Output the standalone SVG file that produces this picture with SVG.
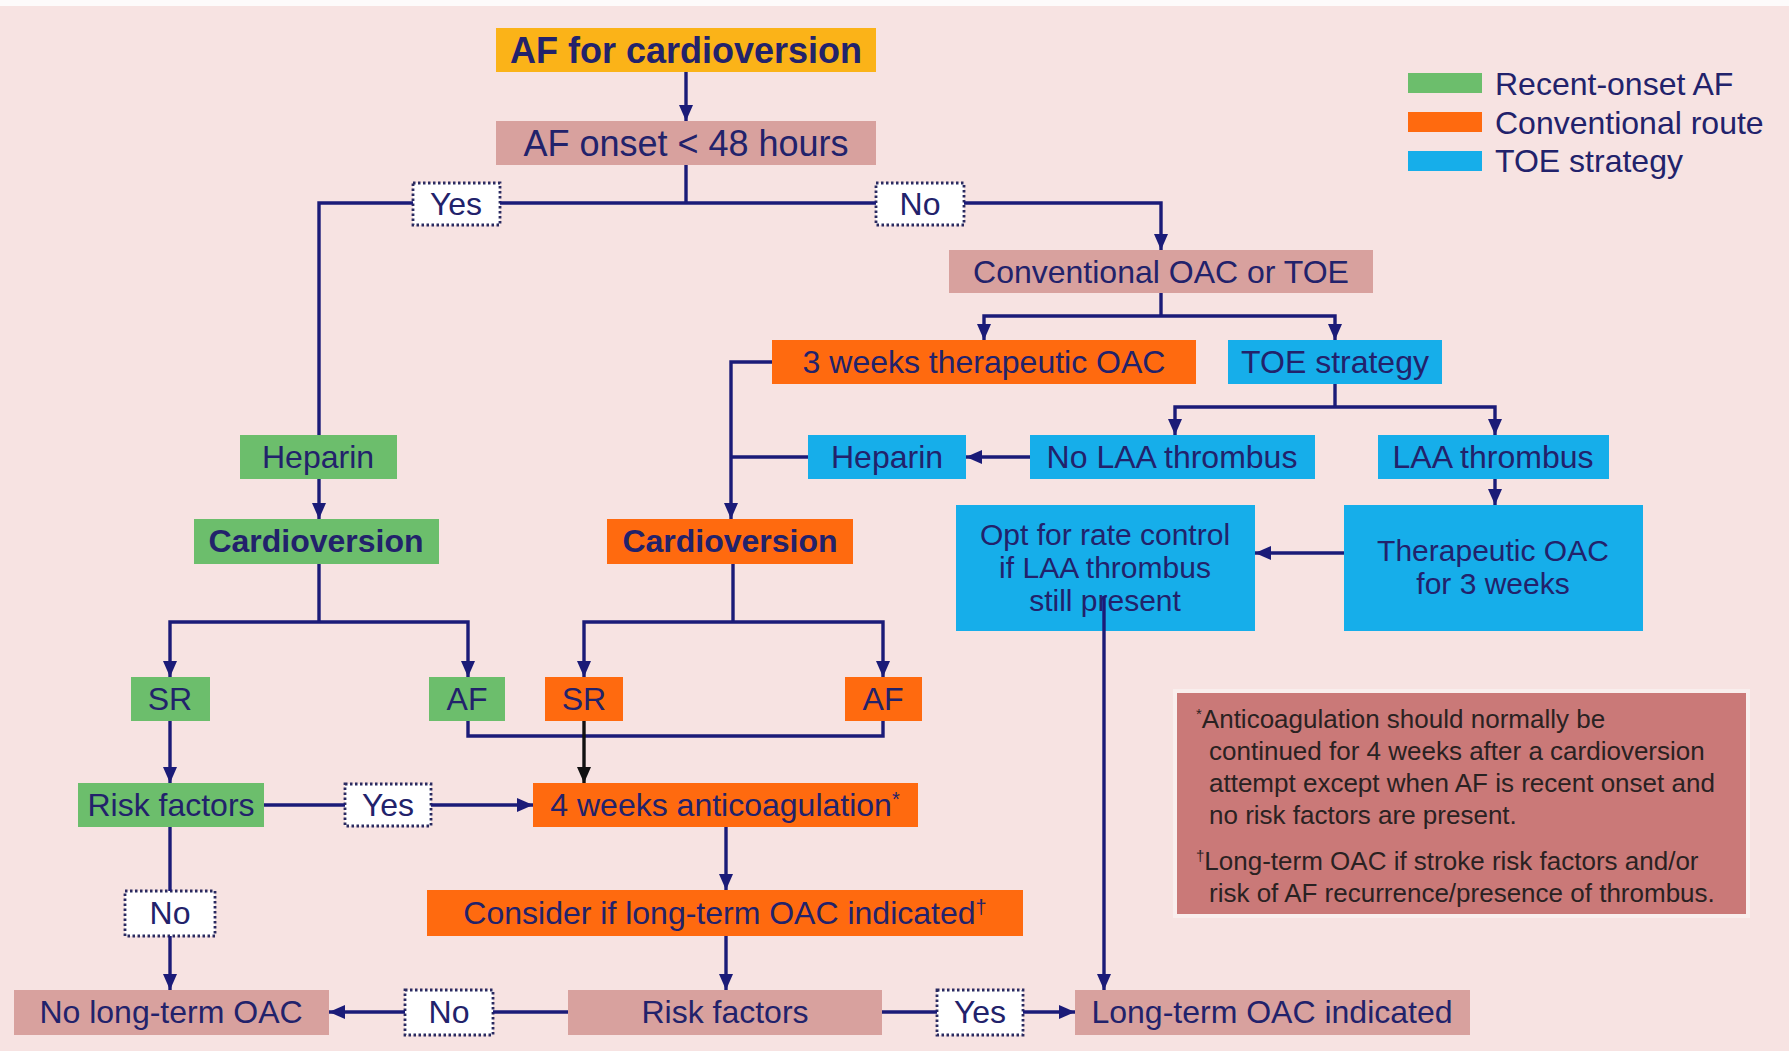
<svg xmlns="http://www.w3.org/2000/svg" width="1789" height="1051" viewBox="0 0 1789 1051">
<style>
text{font-family:"Liberation Sans",Arial,sans-serif;fill:#22226b}
.t{font-size:32px;text-anchor:middle}
.m{font-size:30px;text-anchor:middle}
.b{font-size:32px;font-weight:bold;text-anchor:middle}
.big{font-size:36px;text-anchor:middle}
.leg{font-size:32px}
.fn{font-size:26px;fill:#2a2222}
.rose{fill:#D8A19E}
.orange{fill:#FF6A0F}
.blue{fill:#16AEEA}
.green{fill:#6CBE6C}
.gold{fill:#FBB318}
.lbl{fill:#ffffff;stroke:#2a2a60;stroke-width:2.8;stroke-dasharray:2.5 2.5}
.c{fill:none;stroke:#1b1b78;stroke-width:3.4}
.k{fill:none;stroke:#111111;stroke-width:3.4}
</style>
<defs>
<marker id="a" markerUnits="userSpaceOnUse" markerWidth="18" markerHeight="16" refX="16" refY="7" orient="auto"><path d="M0,0 L16,7 L0,14 z" fill="#1b1b78"/></marker>
<marker id="ak" markerUnits="userSpaceOnUse" markerWidth="18" markerHeight="16" refX="16" refY="7" orient="auto"><path d="M0,0 L16,7 L0,14 z" fill="#111111"/></marker>
</defs>
<rect x="0" y="0" width="1789" height="1051" fill="#F7E3E2"/>
<rect x="0" y="0" width="1789" height="6" fill="#FDFBFB"/>

<g id="legend">
<rect x="1408" y="73" width="74" height="20" class="green"/>
<rect x="1408" y="112" width="74" height="20" class="orange"/>
<rect x="1408" y="151" width="74" height="20" class="blue"/>
<text x="1495" y="95" class="leg">Recent-onset AF</text>
<text x="1495" y="134" class="leg">Conventional route</text>
<text x="1495" y="172" class="leg">TOE strategy</text>
</g>

<g id="n-title"><rect x="496" y="28" width="380" height="44" class="gold"/><text x="686" y="63" class="big" font-weight="bold">AF for cardioversion</text></g>
<g id="n-onset"><rect x="496" y="121" width="380" height="44" class="rose"/><text x="686" y="156" class="big">AF onset &lt; 48 hours</text></g>
<g id="l-yes1"><rect x="413" y="183" width="87" height="42" class="lbl"/><text x="456" y="215" class="t">Yes</text></g>
<g id="l-no1"><rect x="876" y="183" width="88" height="42" class="lbl"/><text x="920" y="215" class="t">No</text></g>
<g id="n-conv"><rect x="949" y="250" width="424" height="43" class="rose"/><text x="1161" y="283" class="t">Conventional OAC or TOE</text></g>
<g id="n-3weeks"><rect x="772" y="340" width="424" height="44" class="orange"/><text x="984" y="373" class="t">3 weeks therapeutic OAC</text></g>
<g id="n-toe"><rect x="1228" y="340" width="214" height="44" class="blue"/><text x="1335" y="373" class="t">TOE strategy</text></g>
<g id="n-heparin-blue"><rect x="808" y="435" width="158" height="44" class="blue"/><text x="887" y="468" class="t">Heparin</text></g>
<g id="n-nolaa"><rect x="1030" y="435" width="285" height="44" class="blue"/><text x="1172" y="468" class="t">No LAA thrombus</text></g>
<g id="n-laa"><rect x="1378" y="435" width="231" height="44" class="blue"/><text x="1493" y="468" class="t">LAA thrombus</text></g>
<g id="n-opt"><rect x="956" y="505" width="299" height="126" class="blue"/><text class="m"><tspan x="1105" y="545">Opt for rate control</tspan><tspan x="1105" y="578">if LAA thrombus</tspan><tspan x="1105" y="611">still present</tspan></text></g>
<g id="n-ther"><rect x="1344" y="505" width="299" height="126" class="blue"/><text class="m"><tspan x="1493" y="561">Therapeutic OAC</tspan><tspan x="1493" y="594">for 3 weeks</tspan></text></g>
<g id="n-heparin-green"><rect x="240" y="435" width="157" height="44" class="green"/><text x="318" y="468" class="t">Heparin</text></g>
<g id="n-cv-green"><rect x="194" y="519" width="245" height="45" class="green"/><text x="316" y="552" class="b">Cardioversion</text></g>
<g id="n-cv-orange"><rect x="607" y="519" width="246" height="45" class="orange"/><text x="730" y="552" class="b">Cardioversion</text></g>
<g id="n-sr-green"><rect x="131" y="677" width="79" height="44" class="green"/><text x="170" y="710" class="t">SR</text></g>
<g id="n-af-green"><rect x="429" y="677" width="76" height="44" class="green"/><text x="467" y="710" class="t">AF</text></g>
<g id="n-sr-orange"><rect x="545" y="677" width="78" height="44" class="orange"/><text x="584" y="710" class="t">SR</text></g>
<g id="n-af-orange"><rect x="845" y="677" width="77" height="44" class="orange"/><text x="883" y="710" class="t">AF</text></g>
<g id="n-risk-green"><rect x="78" y="783" width="186" height="44" class="green"/><text x="171" y="816" class="t">Risk factors</text></g>
<g id="l-yes2"><rect x="345" y="784" width="86" height="42" class="lbl"/><text x="388" y="816" class="t">Yes</text></g>
<g id="n-4weeks"><rect x="533" y="783" width="385" height="44" class="orange"/><text x="725" y="816" class="t">4 weeks anticoagulation<tspan font-size="20" dy="-10">*</tspan></text></g>
<g id="l-no2"><rect x="125" y="891" width="90" height="45" class="lbl"/><text x="170" y="924" class="t">No</text></g>
<g id="n-consider"><rect x="427" y="890" width="596" height="46" class="orange"/><text x="725" y="924" class="t">Consider if long-term OAC indicated<tspan font-size="20" dy="-10">†</tspan></text></g>
<g id="n-nolong"><rect x="14" y="990" width="315" height="45" class="rose"/><text x="171" y="1023" class="t">No long-term OAC</text></g>
<g id="l-no3"><rect x="405" y="990" width="88" height="45" class="lbl"/><text x="449" y="1023" class="t">No</text></g>
<g id="n-risk-rose"><rect x="568" y="990" width="314" height="45" class="rose"/><text x="725" y="1023" class="t">Risk factors</text></g>
<g id="l-yes3"><rect x="937" y="990" width="86" height="45" class="lbl"/><text x="980" y="1023" class="t">Yes</text></g>
<g id="n-longterm"><rect x="1075" y="990" width="395" height="45" class="rose"/><text x="1272" y="1023" class="t">Long-term OAC indicated</text></g>

<g id="footnote">
<rect x="1175" y="691" width="573" height="225" fill="#CA7978" stroke="#F9EEED" stroke-width="4"/>
<text x="1196" y="728" class="fn"><tspan font-size="15" dy="-9">*</tspan><tspan dy="9">Anticoagulation should normally be</tspan></text>
<text x="1209" y="760" class="fn">continued for 4 weeks after a cardioversion</text>
<text x="1209" y="792" class="fn">attempt except when AF is recent onset and</text>
<text x="1209" y="824" class="fn">no risk factors are present.</text>
<text x="1196" y="870" class="fn"><tspan font-size="15" dy="-9">†</tspan><tspan dy="9">Long-term OAC if stroke risk factors and/or</tspan></text>
<text x="1209" y="902" class="fn">risk of AF recurrence/presence of thrombus.</text>
</g>

<g id="connectors">
<path class="c" d="M686,72 V121" marker-end="url(#a)"/>
<path class="c" d="M686,165 V203"/>
<path class="c" d="M413,203 H319 V435"/>
<path class="c" d="M500,203 H876"/>
<path class="c" d="M964,203 H1161 V250" marker-end="url(#a)"/>
<path class="c" d="M1161,293 V316"/>
<path class="c" d="M1161,316 H984 V340" marker-end="url(#a)"/>
<path class="c" d="M1161,316 H1335 V340" marker-end="url(#a)"/>
<path class="c" d="M1335,384 V407"/>
<path class="c" d="M1335,407 H1175 V435" marker-end="url(#a)"/>
<path class="c" d="M1335,407 H1495 V435" marker-end="url(#a)"/>
<path class="c" d="M1030,457 H966" marker-end="url(#a)"/>
<path class="c" d="M1495,479 V505" marker-end="url(#a)"/>
<path class="c" d="M1344,553 H1255" marker-end="url(#a)"/>
<path class="c" d="M1104,596 V990" marker-end="url(#a)"/>
<path class="c" d="M772,362 H731 V519" marker-end="url(#a)"/>
<path class="c" d="M808,457 H731"/>
<path class="c" d="M319,479 V519" marker-end="url(#a)"/>
<path class="c" d="M319,564 V622"/>
<path class="c" d="M319,622 H170 V677" marker-end="url(#a)"/>
<path class="c" d="M319,622 H468 V677" marker-end="url(#a)"/>
<path class="c" d="M733,564 V622"/>
<path class="c" d="M733,622 H584 V677" marker-end="url(#a)"/>
<path class="c" d="M733,622 H883 V677" marker-end="url(#a)"/>
<path class="c" d="M468,721 V736 H883 V721"/>
<path class="k" d="M584,721 V783" marker-end="url(#ak)"/>
<path class="c" d="M170,721 V783" marker-end="url(#a)"/>
<path class="c" d="M264,805 H345"/>
<path class="c" d="M431,805 H533" marker-end="url(#a)"/>
<path class="c" d="M170,827 V891"/>
<path class="c" d="M170,936 V990" marker-end="url(#a)"/>
<path class="c" d="M726,827 V890" marker-end="url(#a)"/>
<path class="c" d="M726,936 V990" marker-end="url(#a)"/>
<path class="c" d="M568,1012 H493"/>
<path class="c" d="M405,1012 H329" marker-end="url(#a)"/>
<path class="c" d="M882,1012 H937"/>
<path class="c" d="M1023,1012 H1075" marker-end="url(#a)"/>
</g>
</svg>
